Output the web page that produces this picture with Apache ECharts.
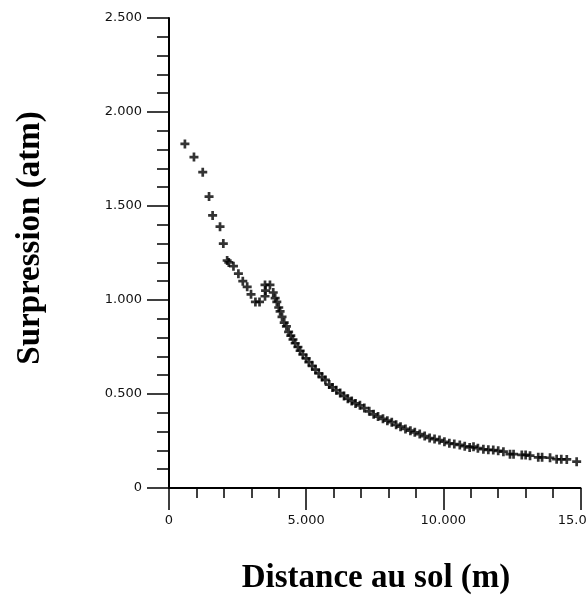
<!DOCTYPE html>
<html>
<head>
<meta charset="utf-8">
<script src="https://cdn.jsdelivr.net/npm/echarts@6/dist/echarts.min.js"></script>
<style>
  html, body { margin: 0; padding: 0; background: #fff; }
  #chart { width: 587px; height: 601px; }
</style>
</head>
<body>
<div id="chart"></div>
<script>
// distance (m)
const distance = [
  0.58, 0.91, 1.23, 1.46, 1.59, 1.86, 1.98, 2.12, 2.18, 2.35, 2.53, 2.69, 2.85, 2.99,
  3.15, 3.30, 3.50, 3.52, 3.50, 3.68, 3.80, 3.87, 3.93, 4.00, 4.05, 4.12, 4.20, 4.28,
  4.36, 4.44, 4.52, 4.60, 4.70, 4.78, 4.88, 5.00, 5.10, 5.22, 5.34, 5.46, 5.58, 5.70,
  5.84, 5.96, 6.10, 6.24, 6.38, 6.52, 6.66, 6.80, 6.96, 7.12, 7.30, 7.46, 7.62, 7.80,
  7.96, 8.12, 8.28, 8.44, 8.62, 8.80, 8.96, 9.14, 9.32, 9.50, 9.68, 9.86, 10.04, 10.22,
  10.40, 10.60, 10.78, 10.96, 11.10, 11.26, 11.46, 11.64, 11.82, 12.00, 12.19, 12.43,
  12.56, 12.86, 13.00, 13.16, 13.46, 13.60, 13.89, 14.13, 14.30, 14.50, 14.86
];
// surpression (atm)
const pressure = [
  1.83, 1.76, 1.68, 1.55, 1.45, 1.39, 1.30, 1.21, 1.20, 1.18, 1.14, 1.10, 1.07, 1.03,
  0.99, 0.99, 1.02, 1.05, 1.08, 1.08, 1.04, 1.01, 0.99, 0.96, 0.94, 0.91, 0.88, 0.86,
  0.83, 0.81, 0.79, 0.77, 0.75, 0.73, 0.71, 0.69, 0.67, 0.65, 0.63, 0.61, 0.59, 0.575,
  0.55, 0.535, 0.52, 0.505, 0.49, 0.475, 0.463, 0.45, 0.44, 0.425, 0.408, 0.392, 0.38, 0.368,
  0.358, 0.35, 0.336, 0.326, 0.314, 0.305, 0.296, 0.287, 0.276, 0.266, 0.26, 0.255, 0.246, 0.238,
  0.234, 0.229, 0.222, 0.216, 0.22, 0.212, 0.206, 0.203, 0.202, 0.198, 0.193, 0.18,
  0.18, 0.176, 0.176, 0.172, 0.163, 0.163, 0.161, 0.153, 0.153, 0.152, 0.14
];
const xTicks = [0, 5, 10, 15];
const yTicks = [0, 0.5, 1, 1.5, 2, 2.5];

const chart = echarts.init(document.getElementById("chart"));

function fmt(v) {
  return v === 0 ? "0" : v.toFixed(3);
}

const tickFont = {
  color: "#111",
  fontSize: 13,
  fontFamily: "DejaVu Sans",
};

const option = {
  animation: false,
  grid: {
    left: 169,
    right: 6.5,
    top: 18,
    bottom: 113,
    outerBoundsMode: "none",
  },
  xAxis: {
    type: "value",
    min: xTicks[0],
    max: xTicks[xTicks.length - 1],
    interval: 5,
    axisLine: { lineStyle: { color: "#000", width: 2 } },
    axisTick: { length: 22, lineStyle: { color: "#000", width: 1.5 } },
    minorTick: { show: true, splitNumber: 5, length: 10, lineStyle: { color: "#000", width: 1.5 } },
    splitLine: { show: false },
    axisLabel: Object.assign({ margin: 26, formatter: fmt }, tickFont),
  },
  yAxis: {
    type: "value",
    min: yTicks[0],
    max: yTicks[yTicks.length - 1],
    interval: 0.5,
    axisLine: { lineStyle: { color: "#000", width: 2 } },
    axisTick: { length: 22, lineStyle: { color: "#000", width: 1.5 } },
    minorTick: { show: true, splitNumber: 5, length: 12, lineStyle: { color: "#000", width: 1.5 } },
    splitLine: { show: false },
    axisLabel: Object.assign({ margin: 27, formatter: fmt }, tickFont),
  },
  graphic: [
    {
      type: "text",
      x: 30,
      y: 238,
      rotation: Math.PI / 2,
      style: {
        text: "Surpression (atm)",
        font: "bold 33px 'Liberation Serif'",
        fill: "#000",
        align: "center",
        verticalAlign: "middle",
      },
    },
    {
      type: "text",
      x: 376,
      y: 578,
      style: {
        text: "Distance au sol (m)",
        font: "bold 33px 'Liberation Serif'",
        fill: "#000",
        align: "center",
        verticalAlign: "middle",
      },
    },
  ],
  series: [
    {
      type: "scatter",
      symbol: "path://M3.5,0H6.5V3.5H10V6.5H6.5V10H3.5V6.5H0V3.5H3.5Z",
      symbolSize: 9,
      itemStyle: { color: "#000" },
      data: distance.map((d, i) => [d, pressure[i]]),
    },
  ],
};

chart.setOption(option);
window.addEventListener("resize", function () {
  chart.resize();
});
</script>
</body>
</html>
